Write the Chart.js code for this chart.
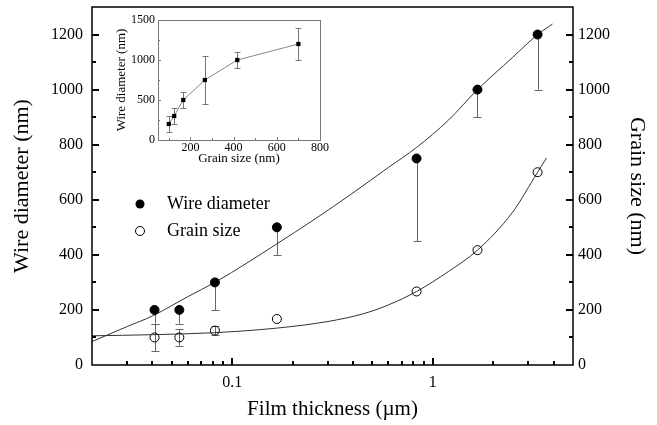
<!DOCTYPE html>
<html>
<head>
<meta charset="utf-8">
<script src="https://cdn.jsdelivr.net/npm/chart.js@4.4.1/dist/chart.umd.min.js"></script>
<style>
  body { margin: 0; background: #fff; }
  #wrap { position: relative; width: 657px; height: 425px; }
  #main { position: absolute; left: 0; top: 0; }
  #inset { position: absolute; left: 100px; top: 10px; }
</style>
</head>
<body>
<div id="wrap">
  <canvas id="main" width="657" height="425"></canvas>
  <canvas id="inset" width="230" height="160"></canvas>
</div>
<script>
// Film thickness (um) and measured values
var thickness = [0.041, 0.0545, 0.082, 0.167, 0.83, 1.67, 3.33];
var wireDiameter = [200, 200, 300, 500, 750, 1000, 1200];
var wireErrLow = [150, 150, 200, 400, 450, 900, 1000];
var grainSize = [100, 100, 125, 167, 267, 417, 700];
var grainErrLow = [50, 70, 108, null, null, null, null];
var grainErrHigh = [150, 130, 140, null, null, null, null];

// Fitted curves
var wireFitX = [0.02, 0.03, 0.04, 0.06, 0.082, 0.12, 0.167, 0.25, 0.4, 0.6, 0.83, 1.2, 1.67, 2.5, 3.33, 3.95];
var wireFitY = [85, 140, 178, 248, 300, 373, 440, 523, 625, 717, 790, 890, 1000, 1117, 1200, 1238];
var grainFitX = [0.02, 0.04, 0.08, 0.167, 0.3, 0.45, 0.6, 0.83, 1.2, 1.67, 2.5, 3.33, 3.69];
var grainFitY = [106, 110, 117, 134, 158, 186, 218, 267, 340, 417, 555, 700, 752];

// Tick marks (major ones carry labels)
var xMajorTicks = [0.1, 1];
var xMinorTicks = [0.03, 0.04, 0.05, 0.06, 0.07, 0.08, 0.09, 0.2, 0.3, 0.4, 0.5, 0.6, 0.7, 0.8, 0.9, 2, 3, 4];
var yMajorTicks = [200, 400, 600, 800, 1000, 1200];
var yMinorTicks = [100, 300, 500, 700, 900, 1100];

// Inset: wire diameter vs grain size
var insetGrain = [100, 125, 167, 267, 417, 700];
var insetWire = [200, 300, 500, 750, 1000, 1200];
var insetErrLow = [100, 200, 400, 450, 900, 1000];
var insetErrHigh = [300, 400, 600, 1050, 1100, 1400];
var insetXMajor = [200, 400, 600];
var insetXMinor = [100, 300, 500, 700];
var insetYMajor = [500, 1000];
var insetYMinor = [250, 750, 1250];

Chart.defaults.font.family = "'Liberation Serif', 'DejaVu Serif', serif";
Chart.defaults.color = '#000';

function points(xs, ys) {
    return xs.map(function (x, i) { return {x: x, y: ys[i]}; });
}

function crisp(v) { return Math.round(v) + 0.5; }

// error bars: from high (or the point itself) down to low
function errBars(ctx, xs, ys, lows, highs, xScale, yScale, cap) {
    for (var i = 0; i < xs.length; i++) {
        if (lows[i] == null) continue;
        var px = crisp(xScale.getPixelForValue(xs[i]));
        var top = yScale.getPixelForValue(highs ? highs[i] : ys[i]);
        var bot = yScale.getPixelForValue(lows[i]);
        ctx.beginPath();
        ctx.moveTo(px, top);
        ctx.lineTo(px, bot);
        ctx.moveTo(px - cap, crisp(bot));
        ctx.lineTo(px + cap, crisp(bot));
        if (highs) {
            ctx.moveTo(px - cap, crisp(top));
            ctx.lineTo(px + cap, crisp(top));
        }
        ctx.stroke();
    }
}

// ticks pointing into the plot, drawn as thin filled bars
function inTicks(ctx, scale, area, side, values, len, w) {
    values.forEach(function (v) {
        var p = Math.round(scale.getPixelForValue(v));
        var h = Math.floor(w / 2);
        if (side === 'bottom') ctx.fillRect(p - h, Math.round(area.bottom) - len, w, len);
        else if (side === 'left') ctx.fillRect(Math.round(area.left), p - h, len, w);
        else ctx.fillRect(Math.round(area.right) - len, p - h, len, w);
    });
}

var mainDecor = {
    id: 'mainDecor',
    beforeDatasetsDraw: function (chart) {
        var ctx = chart.ctx, s = chart.scales;
        ctx.save();
        ctx.strokeStyle = '#666';
        ctx.lineWidth = 1;
        errBars(ctx, thickness, wireDiameter, wireErrLow, null, s.x, s.y, 4);
        errBars(ctx, thickness, grainSize, grainErrLow, grainErrHigh, s.x, s.y2, 4);
        ctx.restore();
    },
    afterDraw: function (chart) {
        var ctx = chart.ctx, a = chart.chartArea, s = chart.scales;
        ctx.save();
        ctx.strokeStyle = '#000';
        ctx.lineWidth = 1.5;
        ctx.strokeRect(a.left, a.top, a.right - a.left, a.bottom - a.top);
        ctx.fillStyle = '#000';
        inTicks(ctx, s.x, a, 'bottom', xMajorTicks, 7, 2);
        inTicks(ctx, s.x, a, 'bottom', xMinorTicks, 4, 2);
        inTicks(ctx, s.y, a, 'left', yMajorTicks, 7, 2);
        inTicks(ctx, s.y, a, 'left', yMinorTicks, 4, 2);
        inTicks(ctx, s.y2, a, 'right', yMajorTicks, 7, 2);
        inTicks(ctx, s.y2, a, 'right', yMinorTicks, 4, 2);

        // legend
        var lx = 140, ly = 204, gap = 27;
        ctx.beginPath();
        ctx.arc(lx, ly, 4.5, 0, Math.PI * 2);
        ctx.fill();
        ctx.lineWidth = 1;
        ctx.beginPath();
        ctx.arc(lx, ly + gap, 4.5, 0, Math.PI * 2);
        ctx.stroke();
        ctx.font = "18px 'Liberation Serif', serif";
        ctx.textBaseline = 'middle';
        ctx.textAlign = 'left';
        ctx.fillText('Wire diameter', lx + 27, ly);
        ctx.fillText('Grain size', lx + 27, ly + gap);
        ctx.restore();
    }
};

var noGrid = {display: false, drawTicks: false, tickLength: 0};

new Chart(document.getElementById('main'), {
    type: 'scatter',
    data: {
        datasets: [
            {
                label: 'Wire diameter',
                data: points(thickness, wireDiameter),
                yAxisID: 'y',
                pointRadius: 4.5,
                pointHoverRadius: 4.5,
                pointBackgroundColor: '#000',
                pointBorderColor: '#000',
                order: 1
            },
            {
                label: 'Grain size',
                data: points(thickness, grainSize),
                yAxisID: 'y2',
                pointRadius: 4.5,
                pointHoverRadius: 4.5,
                pointBackgroundColor: 'rgba(0,0,0,0)',
                pointBorderColor: '#000',
                pointBorderWidth: 1,
                order: 1
            },
            {
                type: 'line',
                label: 'wire fit',
                data: points(wireFitX, wireFitY),
                yAxisID: 'y',
                borderColor: '#333',
                borderWidth: 1,
                pointRadius: 0,
                cubicInterpolationMode: 'monotone',
                fill: false,
                order: 2
            },
            {
                type: 'line',
                label: 'grain fit',
                data: points(grainFitX, grainFitY),
                yAxisID: 'y2',
                borderColor: '#333',
                borderWidth: 1,
                pointRadius: 0,
                cubicInterpolationMode: 'monotone',
                fill: false,
                order: 2
            }
        ]
    },
    options: {
        responsive: false,
        animation: false,
        devicePixelRatio: 1,
        layout: {padding: {top: 7, left: 0, right: 0, bottom: 0}},
        plugins: {legend: {display: false}, tooltip: {enabled: false}},
        scales: {
            x: {
                type: 'logarithmic',
                min: 0.02,
                max: 5,
                grid: noGrid,
                border: {display: false},
                ticks: {
                    autoSkip: false,
                    maxRotation: 0,
                    padding: 8,
                    font: {size: 16},
                    callback: function (v) {
                        if (Math.abs(v - 0.1) < 1e-9) return '0.1';
                        if (Math.abs(v - 1) < 1e-9) return '1';
                        return '';
                    }
                },
                title: {display: true, text: 'Film thickness (µm)', font: {size: 21}, padding: {top: 0, bottom: 3}},
                afterFit: function (s) { s.height = 60; s.paddingLeft = 0; s.paddingRight = 0; }
            },
            y: {
                position: 'left',
                min: 0,
                max: 1300,
                grid: noGrid,
                border: {display: false},
                ticks: {
                    stepSize: 100,
                    autoSkip: false,
                    padding: 9,
                    font: {size: 16},
                    callback: function (v) { return v % 200 === 0 ? String(v) : ''; }
                },
                title: {display: true, text: 'Wire diameter (nm)', font: {size: 22}, padding: {top: 9, bottom: 0}},
                afterFit: function (s) { s.width = 92; s.paddingTop = 0; s.paddingBottom = 0; }
            },
            y2: {
                position: 'right',
                min: 0,
                max: 1300,
                grid: noGrid,
                border: {display: false},
                ticks: {
                    stepSize: 100,
                    autoSkip: false,
                    padding: 5,
                    font: {size: 16},
                    callback: function (v) { return v % 200 === 0 ? String(v) : ''; }
                },
                title: {display: true, text: 'Grain size (nm)', font: {size: 22}, padding: {top: 7, bottom: 0}},
                afterFit: function (s) { s.width = 84; s.paddingTop = 0; s.paddingBottom = 0; }
            }
        }
    },
    plugins: [mainDecor]
});

// Inset
var insetDecor = {
    id: 'insetDecor',
    beforeDatasetsDraw: function (chart) {
        var ctx = chart.ctx, s = chart.scales;
        ctx.save();
        ctx.strokeStyle = '#777';
        ctx.lineWidth = 1;
        errBars(ctx, insetGrain, insetWire, insetErrLow, insetErrHigh, s.x, s.y, 3);
        ctx.restore();
    },
    afterDraw: function (chart) {
        var ctx = chart.ctx, a = chart.chartArea, s = chart.scales;
        ctx.save();
        ctx.strokeStyle = '#777';
        ctx.lineWidth = 1;
        ctx.strokeRect(crisp(a.left), crisp(a.top), Math.round(a.right - a.left), Math.round(a.bottom - a.top));
        ctx.fillStyle = '#777';
        inTicks(ctx, s.x, a, 'bottom', insetXMajor, 3, 1);
        inTicks(ctx, s.x, a, 'bottom', insetXMinor, 2, 1);
        inTicks(ctx, s.y, a, 'left', insetYMajor, 3, 1);
        inTicks(ctx, s.y, a, 'left', insetYMinor, 2, 1);
        ctx.restore();
    }
};

new Chart(document.getElementById('inset'), {
    type: 'line',
    data: {
        datasets: [{
            label: 'Wire diameter',
            data: points(insetGrain, insetWire),
            borderColor: '#888',
            borderWidth: 1,
            pointStyle: 'rect',
            pointRadius: 3,
            pointHoverRadius: 3,
            pointBackgroundColor: '#000',
            pointBorderColor: '#000',
            pointBorderWidth: 0,
            fill: false,
            tension: 0
        }]
    },
    options: {
        responsive: false,
        animation: false,
        devicePixelRatio: 1,
        layout: {padding: {top: 10, right: 10, left: 0, bottom: 0}},
        plugins: {legend: {display: false}, tooltip: {enabled: false}},
        scales: {
            x: {
                type: 'linear',
                min: 50,
                max: 800,
                grid: noGrid,
                border: {display: false},
                ticks: {
                    stepSize: 100,
                    autoSkip: false,
                    maxRotation: 0,
                    padding: 1,
                    font: {size: 12},
                    callback: function (v) { return v % 200 === 0 ? String(v) : ''; }
                },
                title: {display: true, text: 'Grain size (nm)', font: {size: 13}, padding: {top: 0, bottom: 4}},
                afterFit: function (s) { s.height = 30; s.paddingLeft = 0; s.paddingRight = 0; }
            },
            y: {
                min: 0,
                max: 1500,
                grid: noGrid,
                border: {display: false},
                ticks: {
                    stepSize: 250,
                    autoSkip: false,
                    padding: 3,
                    font: {size: 12},
                    callback: function (v) { return v % 500 === 0 ? String(v) : ''; }
                },
                title: {display: true, text: 'Wire diameter (nm)', font: {size: 13}, padding: {top: 14, bottom: 0}},
                afterFit: function (s) { s.width = 58; s.paddingTop = 0; s.paddingBottom = 0; }
            }
        }
    },
    plugins: [insetDecor]
});
</script>
</body>
</html>
